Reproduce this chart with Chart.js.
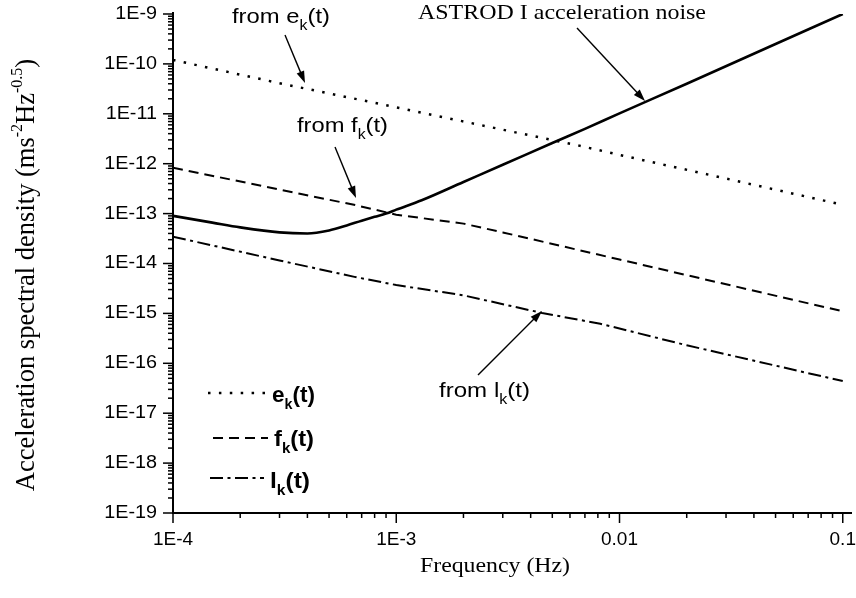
<!DOCTYPE html>
<html>
<head>
<meta charset="utf-8">
<script src="https://cdn.jsdelivr.net/npm/chart.js@4/dist/chart.umd.min.js"></script>
<style>
  html, body { margin: 0; padding: 0; background: #fff; }
</style>
</head>
<body>
<canvas id="chart" width="856" height="598"></canvas>
<script>
// values: frequency (Hz) vs acceleration noise (m s^-2 Hz^-0.5)
const astrodFreq  = [1e-4, 1.5e-4, 2e-4, 3e-4, 4e-4, 5e-4, 6e-4, 7e-4, 8e-4, 9e-4, 1e-3, 1.3e-3, 2e-3, 3e-3, 5e-3, 7e-3, 1e-2, 2e-2, 5e-2, 0.1];
const astrodNoise = [9e-14, 6.6e-14, 5.3e-14, 4.2e-14, 4.0e-14, 4.6e-14, 5.8e-14, 7.2e-14, 8.6e-14, 1.0e-13, 1.2e-13, 1.85e-13, 4.3e-13, 9.5e-13, 2.6e-12, 5e-12, 1.02e-11, 4e-11, 2.5e-10, 1e-9];

const ekFreq  = [1e-4, 3e-4, 1e-3, 3e-3, 6.6e-3, 1e-2, 2.4e-2, 0.1];
const ekNoise = [1.2e-10, 4.1e-11, 1.35e-11, 4.8e-12, 2.3e-12, 1.5e-12, 6.3e-13, 1.5e-13];

const fkFreq  = [1e-4, 3.7e-4, 6.7e-4, 1e-3, 2e-3, 3e-3, 1e-2, 0.1];
const fkNoise = [8.3e-13, 2.5e-13, 1.45e-13, 9.5e-14, 6.3e-14, 4.2e-14, 1.2e-14, 1.1e-15];

const lkFreq  = [1e-4, 3e-4, 6.5e-4, 1e-3, 2e-3, 4.5e-3, 8.2e-3, 2e-2, 0.1];
const lkNoise = [3.45e-14, 1.15e-14, 5.4e-15, 3.7e-15, 2.3e-15, 1.02e-15, 6.2e-16, 2.3e-16, 4.4e-17];

const xTickValues = [1e-4, 1e-3, 1e-2, 1e-1];
const xTickLabels = ['1E-4', '1E-3', '0.01', '0.1'];
const yTickValues = [1e-19, 1e-18, 1e-17, 1e-16, 1e-15, 1e-14, 1e-13, 1e-12, 1e-11, 1e-10, 1e-9];
const yTickLabels = ['1E-19', '1E-18', '1E-17', '1E-16', '1E-15', '1E-14', '1E-13', '1E-12', '1E-11', '1E-10', '1E-9'];

function toXY(xs, ys) {
    return xs.map((x, i) => ({ x: x, y: ys[i] }));
}

const SANS = '"Liberation Sans", Arial, sans-serif';
const SERIF = '"Liberation Serif", "Times New Roman", serif';

// draws a run of text pieces ({t, font, dy}) squeezed/stretched to a given width
function richText(ctx, parts, left, baseline, width) {
    let natural = 0;
    parts.forEach(p => { ctx.font = p.font; natural += ctx.measureText(p.t).width; });
    const sx = width ? width / natural : 1;
    ctx.save();
    ctx.translate(left, baseline);
    ctx.scale(sx, 1);
    ctx.textAlign = 'left';
    ctx.textBaseline = 'alphabetic';
    let x = 0;
    parts.forEach(p => {
        ctx.font = p.font;
        ctx.fillText(p.t, x, p.dy || 0);
        x += ctx.measureText(p.t).width;
    });
    ctx.restore();
}

function arrow(ctx, x1, y1, x2, y2) {
    const a = Math.atan2(y2 - y1, x2 - x1);
    const len = 12, half = 4;
    ctx.save();
    ctx.lineWidth = 1.4;
    ctx.beginPath();
    ctx.moveTo(x1, y1);
    ctx.lineTo(x2 - Math.cos(a) * len * 0.8, y2 - Math.sin(a) * len * 0.8);
    ctx.stroke();
    ctx.beginPath();
    ctx.moveTo(x2, y2);
    ctx.lineTo(x2 - Math.cos(a) * len + Math.sin(a) * half, y2 - Math.sin(a) * len - Math.cos(a) * half);
    ctx.lineTo(x2 - Math.cos(a) * len - Math.sin(a) * half, y2 - Math.sin(a) * len + Math.cos(a) * half);
    ctx.closePath();
    ctx.fill();
    ctx.restore();
}

function sub(main, font, subFont) {
    return [
        { t: main, font: font },
        { t: 'k', font: subFont, dy: 7 },
        { t: '(t)', font: font }
    ];
}

const decoration = {
    id: 'decoration',
    afterDraw(chart) {
        const ctx = chart.ctx;
        const area = chart.chartArea;
        const xs = chart.scales.x, ys = chart.scales.y;
        ctx.save();
        ctx.fillStyle = '#000';
        ctx.strokeStyle = '#000';

        // axis lines
        ctx.lineWidth = 2;
        ctx.beginPath();
        ctx.moveTo(area.left, area.top - 2);
        ctx.lineTo(area.left, area.bottom);
        ctx.lineTo(area.right, area.bottom);
        ctx.stroke();

        // y ticks, log minors between decades
        ctx.lineWidth = 1.5;
        yTickValues.forEach((v, i) => {
            const py = ys.getPixelForValue(v);
            ctx.beginPath();
            ctx.moveTo(area.left - 10, py);
            ctx.lineTo(area.left, py);
            ctx.stroke();
            if (i < yTickValues.length - 1) {
                for (let k = 2; k <= 9; k++) {
                    const my = ys.getPixelForValue(v * k);
                    ctx.beginPath();
                    ctx.moveTo(area.left - 5, my);
                    ctx.lineTo(area.left, my);
                    ctx.stroke();
                }
            }
        });
        ctx.font = '18px ' + SANS;
        ctx.textAlign = 'right';
        ctx.textBaseline = 'middle';
        yTickValues.forEach((v, i) => {
            const py = ys.getPixelForValue(v);
            ctx.save();
            ctx.translate(area.left - 16, py);
            ctx.scale(1.1, 1);
            ctx.fillText(yTickLabels[i], 0, 0);
            ctx.restore();
        });

        // x ticks
        xTickValues.forEach((v, i) => {
            const px = xs.getPixelForValue(v);
            ctx.beginPath();
            ctx.moveTo(px, area.bottom);
            ctx.lineTo(px, area.bottom + 10);
            ctx.stroke();
            if (i < xTickValues.length - 1) {
                for (let k = 2; k <= 9; k++) {
                    const mx = xs.getPixelForValue(v * k);
                    ctx.beginPath();
                    ctx.moveTo(mx, area.bottom);
                    ctx.lineTo(mx, area.bottom + 5);
                    ctx.stroke();
                }
            }
        });
        ctx.font = '19px ' + SANS;
        ctx.textAlign = 'center';
        ctx.textBaseline = 'alphabetic';
        xTickValues.forEach((v, i) => {
            ctx.fillText(xTickLabels[i], xs.getPixelForValue(v), 545);
        });

        // axis titles
        richText(ctx, [{ t: 'Frequency (Hz)', font: '22px ' + SERIF }], 420, 572, 150);

        ctx.save();
        ctx.translate(34, 275);
        ctx.rotate(-Math.PI / 2);
        const big = '26.5px ' + SERIF, small = '16px ' + SERIF;
        const yParts = [
            { t: 'Acceleration spectral density (ms', font: big },
            { t: '-2', font: small, dy: -12 },
            { t: 'Hz', font: big },
            { t: '-0.5', font: small, dy: -12 },
            { t: ')', font: big }
        ];
        let w = 0;
        yParts.forEach(p => { ctx.font = p.font; w += ctx.measureText(p.t).width; });
        richText(ctx, yParts, -w / 2, 0, 0);
        ctx.restore();

        // annotations
        const aFont = '21px ' + SANS, aSub = '14px ' + SANS;
        richText(ctx, [{ t: 'ASTROD I acceleration noise', font: '22px ' + SERIF }], 418, 19, 288);
        richText(ctx, sub('from e', aFont, aSub), 232, 23, 98);
        richText(ctx, sub('from f', aFont, aSub), 297, 132, 91);
        richText(ctx, sub('from l', aFont, aSub), 439, 397, 91);
        arrow(ctx, 285, 35, 305, 83);
        arrow(ctx, 335, 147, 356, 198);
        arrow(ctx, 577, 28, 645, 101);
        arrow(ctx, 478, 375, 542, 311);

        // legend
        const lFont = 'bold 22px ' + SANS, lSub = 'bold 14px ' + SANS;
        const legendRows = [
            { y: 393, dash: [2.5, 8.4], x1: 208, x2: 265, label: 'e', base: 402, lx: 272, w: 43 },
            { y: 438, dash: [10, 6], x1: 213, x2: 268, label: 'f', base: 446, lx: 274, w: 40 },
            { y: 478, dash: [13, 4.5, 3, 4.5], x1: 210, x2: 264, label: 'l', base: 488, lx: 270, w: 40 }
        ];
        legendRows.forEach(r => {
            ctx.save();
            ctx.lineWidth = r.label === 'e' ? 2.5 : 2;
            ctx.setLineDash(r.dash);
            ctx.beginPath();
            ctx.moveTo(r.x1, r.y);
            ctx.lineTo(r.x2, r.y);
            ctx.stroke();
            ctx.restore();
            richText(ctx, sub(r.label, lFont, lSub), r.lx, r.base, r.w);
        });

        ctx.restore();
    }
};

new Chart(document.getElementById('chart').getContext('2d'), {
    type: 'line',
    data: {
        datasets: [
            {
                label: 'ASTROD I acceleration noise',
                data: toXY(astrodFreq, astrodNoise),
                borderColor: '#000',
                borderWidth: 2.6,
                cubicInterpolationMode: 'monotone'
            },
            {
                label: 'e_k(t)',
                data: toXY(ekFreq, ekNoise),
                borderColor: '#000',
                borderWidth: 2.5,
                borderDash: [2.5, 8.4],
                tension: 0
            },
            {
                label: 'f_k(t)',
                data: toXY(fkFreq, fkNoise),
                borderColor: '#000',
                borderWidth: 2,
                borderDash: [10, 6],
                tension: 0
            },
            {
                label: 'l_k(t)',
                data: toXY(lkFreq, lkNoise),
                borderColor: '#000',
                borderWidth: 2,
                borderDash: [13, 4.5, 3, 4.5],
                tension: 0
            }
        ]
    },
    options: {
        responsive: false,
        animation: false,
        devicePixelRatio: 1,
        layout: { padding: { left: 173, right: 4, top: 14, bottom: 85 } },
        elements: { point: { radius: 0 } },
        plugins: {
            legend: { display: false },
            tooltip: { enabled: false }
        },
        scales: {
            x: { type: 'logarithmic', min: 1e-4, max: 0.11, display: false },
            y: { type: 'logarithmic', min: 1e-19, max: 1e-9, display: false }
        }
    },
    plugins: [decoration]
});
</script>
</body>
</html>
